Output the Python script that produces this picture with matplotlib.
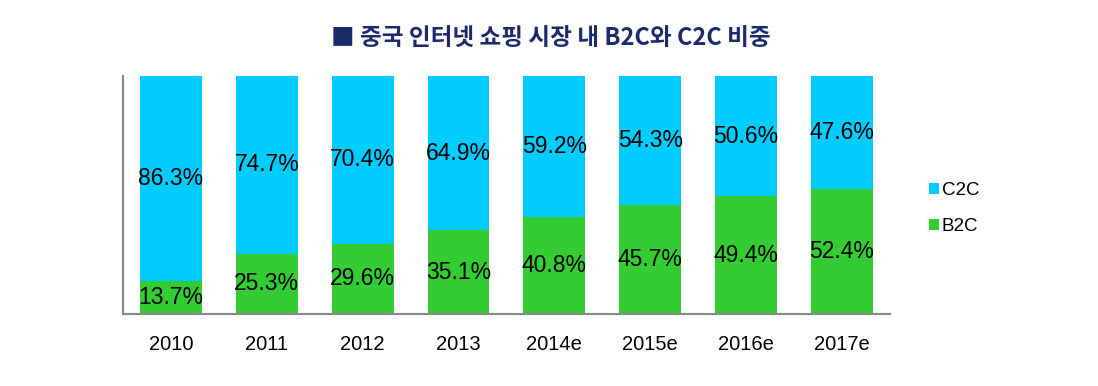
import matplotlib
matplotlib.use("Agg")
import matplotlib.pyplot as plt
import numpy as np
from matplotlib.patches import Patch

plt.rcParams["font.family"] = ["Liberation Sans", "Noto Sans CJK KR", "DejaVu Sans"]

years = ["2010", "2011", "2012", "2013", "2014e", "2015e", "2016e", "2017e"]
b2c = [13.7, 25.3, 29.6, 35.1, 40.8, 45.7, 49.4, 52.4]
c2c = [86.3, 74.7, 70.4, 64.9, 59.2, 54.3, 50.6, 47.6]

color_c2c = "#00CCFF"
color_b2c = "#33CC33"

fig = plt.figure(figsize=(10.98, 3.86), dpi=100)
ax = fig.add_axes([0.112, 0.1865, 0.6985, 0.6166])

x = np.arange(len(years))
b2c = np.array(b2c)
c2c = np.array(c2c)
width = 0.646

ax.bar(x, b2c, width=width, color=color_b2c)
ax.bar(x, c2c, width=width, bottom=b2c, color=color_c2c)

for xi, b, c in zip(x, b2c, c2c):
    ax.text(xi, b / 2, f"{b:.1f}%", ha="center", va="center", fontsize=16.5)
    ax.text(xi, b + c / 2, f"{c:.1f}%", ha="center", va="center", fontsize=16.5)

ax.set_xlim(-0.5, len(years) - 0.5)
ax.set_ylim(0, 100)
ax.set_xticks(x)
ax.set_xticklabels(years, fontsize=14.5)
ax.tick_params(axis="x", length=0, pad=15)
ax.set_yticks([])
for side in ["top", "right"]:
    ax.spines[side].set_visible(False)
for side in ["left", "bottom"]:
    ax.spines[side].set_color("#888888")
    ax.spines[side].set_linewidth(1.5)

legend = [
    Patch(label="C2C", fc=color_c2c),
    Patch(label="B2C", fc=color_b2c),
]
fig.legend(
    handles=legend,
    loc="center left",
    bbox_to_anchor=(0.831, 0.46),
    frameon=False,
    fontsize=13.5,
    handlelength=0.5,
    handleheight=0.5,
    handletextpad=0.15,
    labelspacing=1.0,
)

fig.text(
    0.502, 0.9,
    "■ 중국 인터넷 쇼핑 시장 내 B2C와 C2C 비중",
    ha="center", va="center", fontsize=17, fontweight="bold",
    color="#1B2A6B", family=["Noto Sans CJK KR", "DejaVu Sans"],
)

fig.savefig("out.png", dpi=100)
